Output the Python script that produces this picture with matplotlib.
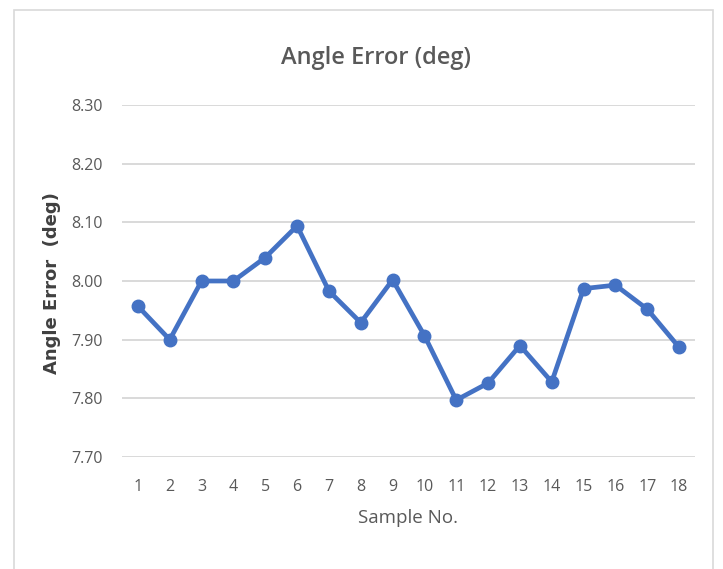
import matplotlib.pyplot as plt
from matplotlib.patches import Rectangle

samples = list(range(1, 19))
angle_error = [7.957, 7.900, 8.000, 8.000, 8.040, 8.094, 7.983, 7.929, 8.002,
               7.907, 7.797, 7.826, 7.890, 7.828, 7.987, 7.993, 7.952, 7.887]
yticks = [7.70, 7.80, 7.90, 8.00, 8.10, 8.20, 8.30]

txt = '#595959'
fig = plt.figure(figsize=(7.23, 5.69), dpi=100)
fig.patches.append(Rectangle((14 / 723, -0.1), (713 - 14) / 723, 1.1 - 10 / 569,
                             transform=fig.transFigure, fill=False,
                             edgecolor='#d9d9d9', linewidth=1.2))

ax = fig.add_axes([122 / 723, 1 - 457 / 569, (695 - 122) / 723, (457 - 105) / 569])
ax.plot(samples, angle_error, color='#4472C4', linewidth=3.4, marker='o',
        markersize=9, solid_joinstyle='round', zorder=3)

ax.set_xlim(0.5, 18.5)
ax.set_ylim(7.70, 8.30)
ax.set_yticks(yticks)
ax.set_yticklabels([f'{v:.2f}' for v in yticks])
ax.set_xticks(samples)
ax.grid(axis='y', color='#d9d9d9', linewidth=1.4)
ax.set_axisbelow(True)
for s in ax.spines.values():
    s.set_visible(False)
ax.tick_params(length=0, colors=txt, labelsize=11.5)
ax.tick_params(axis='y', pad=14)
ax.tick_params(axis='x', pad=16)
for lab in ax.get_xticklabels() + ax.get_yticklabels():
    lab.set_family(['Open Sans', 'DejaVu Sans'])

ax.set_xlabel('Sample No.', fontsize=13.5, color=txt, family=['Open Sans', 'DejaVu Sans'],
              labelpad=10)
fig.text(52 / 723, 1 - 283 / 569, 'Angle Error  (deg)', rotation=90, ha='center', va='center',
         fontsize=13, fontweight='bold', color='#404040', family=['DejaVu Sans'])
fig.text(376 / 723, 1 - 58 / 569, 'Angle Error (deg)', ha='center', va='center',
         fontsize=17, fontweight='semibold', color=txt, family=['Open Sans', 'DejaVu Sans'])

fig.savefig('out.png', dpi=100)
